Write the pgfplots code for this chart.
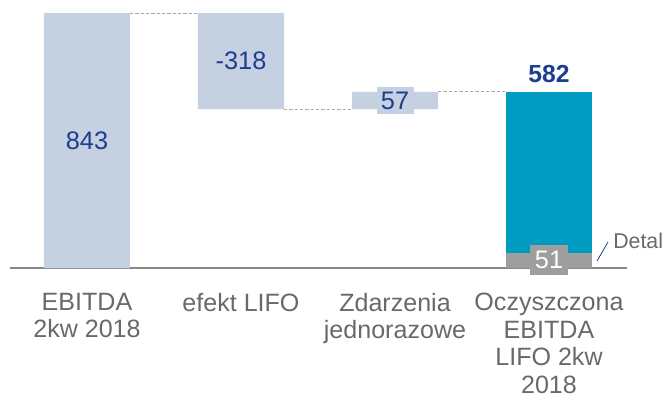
\documentclass[border=0pt]{standalone}
\usepackage{fontspec}
\setmainfont{Liberation Sans}
\usepackage{pgfplots}
\pgfplotsset{compat=1.18}
\definecolor{lightbar}{HTML}{C5D0E1}
\definecolor{tealbar}{HTML}{009BC1}
\definecolor{detalgray}{HTML}{9E9E9E}
\definecolor{valblue}{HTML}{1D3D91}
\definecolor{catgray}{HTML}{696969}
\definecolor{axisgray}{HTML}{888888}
\definecolor{dashgray}{HTML}{AAAAAA}
\begin{document}
\begin{tikzpicture}
\begin{axis}[
  scale only axis, width=462.75pt, height=201pt,
  xmin=-0.5, xmax=3.5065, ymin=0, ymax=886,
  enlargelimits=false,
  axis x line*=bottom, axis y line=none,
  x axis line style={draw=axisgray, line width=1.5pt},
  xtick={0,1,2,3}, major tick length=0pt,
  xticklabels={{EBITDA\\2kw 2018},{efekt LIFO},{Zdarzenia\\jednorazowe},{Oczyszczona\\EBITDA\\LIFO 2kw\\2018}},
  xticklabel style={font=\fontsize{18.8}{20.6}\selectfont, text=catgray, align=center, anchor=north, inner sep=0pt, yshift=-18.75pt},
  ybar stacked, bar width=64.5pt,
  clip=false,
]
\addplot[draw=none, fill=none] coordinates {(0,0) (1,525) (2,525) (3,0)};
\addplot[draw=none, fill=lightbar] coordinates {(0,843) (1,318) (2,57) (3,0)};
\addplot[draw=none, fill=detalgray] coordinates {(0,0) (1,0) (2,0) (3,51)};
\addplot[draw=none, fill=tealbar] coordinates {(0,0) (1,0) (2,0) (3,531)};

\addplot[stack plots=false, sharp plot, no marks, draw=dashgray, dash pattern=on 2.5pt off 1.5pt, line width=0.75pt] coordinates {(0.2792,843) (0.7208,843)};
\addplot[stack plots=false, sharp plot, no marks, draw=dashgray, dash pattern=on 2.5pt off 1.5pt, line width=0.75pt] coordinates {(1.2792,525) (1.7208,525)};
\addplot[stack plots=false, sharp plot, no marks, draw=dashgray, dash pattern=on 2.5pt off 1.5pt, line width=0.75pt] coordinates {(2.2792,582) (2.7208,582)};

\coordinate (l843) at (axis cs:0,421.5);
\coordinate (l318) at (axis cs:1,684);
\coordinate (l57) at (axis cs:2,553.5);
\coordinate (l582) at (axis cs:3,582);
\coordinate (l51) at (axis cs:3,25.5);
\coordinate (s1) at (axis cs:3.3117,23.1);
\coordinate (s2) at (axis cs:3.3831,86);
\coordinate (dt) at (axis cs:3.4156,66.1);

\path (axis cs:-0.5649,-449.6) rectangle (axis cs:3.7532,886);
\end{axis}
\node[font=\fontsize{19}{21}\selectfont, text=valblue] at (l843) {843};
\node[font=\fontsize{19}{21}\selectfont, text=valblue] at (l318) {-318};
\node[font=\fontsize{19}{21}\selectfont, text=valblue, fill=lightbar, minimum width=27.75pt, minimum height=20.25pt, inner sep=0pt] at (l57) {57};
\node[font=\bfseries\fontsize{18.5}{20}\selectfont, text=valblue, anchor=south, inner sep=0pt, yshift=6.75pt] at (l582) {582};
\node[font=\fontsize{19}{21}\selectfont, text=white, fill=detalgray, minimum width=28.5pt, minimum height=22.5pt, inner sep=0pt] at (l51) {51};
\draw[valblue, line width=0.6pt] (s1) -- (s2);
\node[anchor=base west, inner sep=0pt, font=\fontsize{16}{18}\selectfont, text=catgray] at (dt) {Detal};
\end{tikzpicture}
\end{document}
